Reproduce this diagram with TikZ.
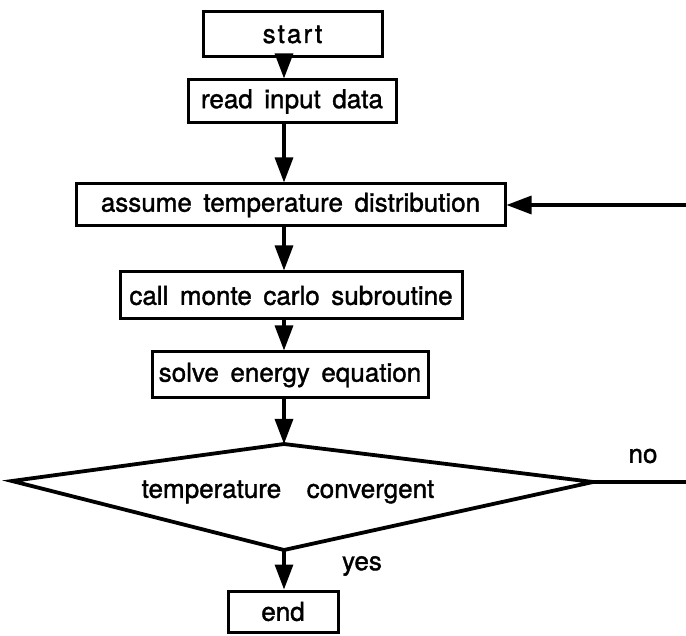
\documentclass[tikz,border=0pt]{standalone}
\usepackage{fontspec}
\setmainfont{TeX Gyre Heros}[WordSpace=1.6, FakeBold=1.4]
\usetikzlibrary{positioning, arrows.meta}

\begin{document}
\begin{tikzpicture}[
  x=1pt, y=-1pt,
  >={Triangle[length=25pt,width=18pt]},
% 1. Plain process boxes with heavy outline
  procbox/.style={
    draw,
    rectangle,
    inner sep=0pt,
    line width=3pt,
    font=\fontsize{26}{30}\selectfont
  },
% 2. Heavy connectors
  every edge/.append style={
    line width=3.2pt
  },
% 3. Decision outline, a bit heavier than the boxes
  decision/.style={
    draw,
    line width=3.8pt,
    line join=miter
  },
  label_font/.style={
    font=\fontsize{26}{30}\selectfont
  }
]
  \useasboundingbox (0,0) rectangle (686,636);

  % Boxes (pixel positions of the scanned chart)
  \node[procbox, minimum width=179pt, minimum height=45pt] (start) at (292.5, 34.5)
    {\addfontfeature{LetterSpace=8}start};
  \node[procbox, minimum width=208pt, minimum height=43pt] (read) at (292, 101.5) {read input data};
  \node[procbox, minimum width=429pt, minimum height=42pt] (assume) at (290.5, 205) {assume temperature distribution};
  \node[procbox, minimum width=342pt, minimum height=47pt] (call) at (291, 295.5) {call monte carlo subroutine};
  \node[procbox, minimum width=276pt, minimum height=46pt] (solve) at (290, 375) {solve energy equation};
  \node[procbox, minimum width=110pt, minimum height=41pt] (endbox) at (283, 611.5) {end};

  % Decision (lopsided diamond)
  \coordinate (axis) at (284, 0);
  \coordinate (dtop) at (284, 444);
  \coordinate (dright) at (593, 482);
  \coordinate (dbot) at (284, 550);
  \coordinate (dleft) at (12, 481);
  \draw[decision] (dtop) -- (dright) -- (dbot) -- (dleft) -- cycle;
  \node[label_font] (test) at (288, 492) {temperature\hspace{14pt} convergent};

  % Loose ends running off the right edge
  \coordinate (loopin) at (686, 205);
  \coordinate (noout) at (686, 482);

  \node[label_font] (yeslbl) at (362, 566) {yes};
  \node[label_font] (nolbl) at (643, 456) {no};

  % Edges
  \path[->]
  (start.south -| axis) edge (read.north -| axis)
  (read.south -| axis) edge (assume.north -| axis)
  (assume.south -| axis) edge (call.north -| axis)
  (call.south -| axis) edge (solve.north -| axis)
  (solve.south -| axis) edge (dtop)
  (dbot) edge (endbox.north -| dbot)
  % feedback from the "no" branch
  (loopin) edge (assume.east);

  \path (dright) edge (noout);

\end{tikzpicture}
\end{document}
